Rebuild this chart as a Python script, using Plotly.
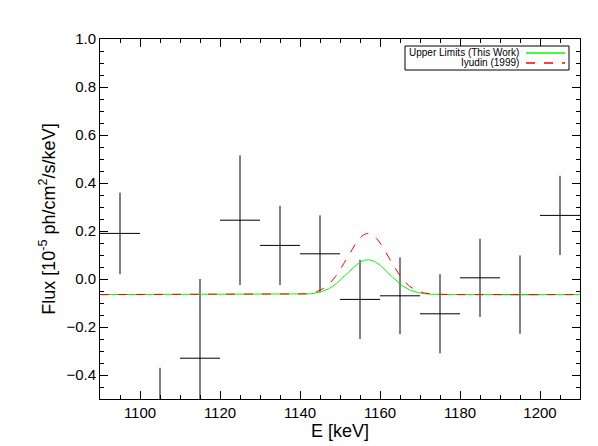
import numpy as np
import plotly.graph_objects as go

energy = [1095, 1105, 1115, 1125, 1135, 1145, 1155, 1165, 1175, 1185, 1195, 1205]
flux = [0.19, -0.55, -0.33, 0.245, 0.14, 0.105, -0.085, -0.07, -0.145, 0.005, -0.065, 0.265]
flux_err = [0.17, 0.18, 0.33, 0.27, 0.165, 0.16, 0.165, 0.16, 0.165, 0.163, 0.163, 0.165]
bin_half = [5] * 12
baseline = -0.065
line_center = 1157.0
line_sigma = 5.2
amp_this_work = 0.145
amp_iyudin = 0.255

e = np.linspace(1090, 1210, 600)
g = np.exp(-0.5 * ((e - line_center) / line_sigma) ** 2)

fig = go.Figure()
fig.add_trace(go.Scatter(x=energy, y=flux, mode="markers", marker=dict(size=0.1, color="black"),
                         error_x=dict(type="data", array=bin_half, width=0, color="black", thickness=1),
                         error_y=dict(type="data", array=flux_err, width=0, color="black", thickness=1),
                         showlegend=False, cliponaxis=True))
fig.add_trace(go.Scatter(x=e, y=baseline + amp_this_work * g, mode="lines",
                         line=dict(color="#00ff00", width=1), showlegend=False))
fig.add_trace(go.Scatter(x=e, y=baseline + amp_iyudin * g, mode="lines",
                         line=dict(color="red", width=1, dash="dash"), showlegend=False))

ax = dict(showline=True, mirror="ticks", linecolor="black", linewidth=1, ticks="inside",
          ticklen=8, tickcolor="black", showgrid=False, zeroline=False,
          minor=dict(ticks="inside", ticklen=4, tickcolor="black", showgrid=False))
fig.update_xaxes(range=[1090, 1210], dtick=20, tick0=1100, minor_dtick=5,
                 title=dict(text="E [keV]", standoff=4), **ax)
fig.update_yaxes(range=[-0.5, 1.0], dtick=0.2, tick0=0, tickformat=".1f", minor_dtick=0.05,
                 title=dict(text="Flux [10<sup>-5</sup> ph/cm<sup>2</sup>/s/keV]", standoff=6), **ax)

L, R, T, B = 397, 561, 38, 62
W, H = 598, 446
pl, pb, pw, ph = 92, 55, 480, 360
def px(x): return (x - pl) / pw
def py(y): return (H - pb - y) / ph
fig.add_shape(type="rect", xref="paper", yref="paper", x0=px(L), x1=px(R), y0=py(B), y1=py(T),
              line=dict(color="black", width=1), fillcolor="white")
fig.add_shape(type="line", xref="paper", yref="paper", x0=px(518), x1=px(557), y0=py(45), y1=py(45),
              line=dict(color="#00ff00", width=1.5))
fig.add_shape(type="line", xref="paper", yref="paper", x0=px(518), x1=px(557), y0=py(55), y1=py(55),
              line=dict(color="red", width=1.5, dash="dash"))
fig.add_annotation(xref="paper", yref="paper", x=px(513), y=py(45), text="Upper Limits (This Work)",
                   showarrow=False, xanchor="right", yanchor="middle", font=dict(size=10))
fig.add_annotation(xref="paper", yref="paper", x=px(513), y=py(55), text="Iyudin (1999)",
                   showarrow=False, xanchor="right", yanchor="middle", font=dict(size=10))

fig.update_layout(width=598, height=446, margin=dict(l=92, r=26, t=31, b=55),
                  plot_bgcolor="white", paper_bgcolor="white",
                  font=dict(family="Liberation Sans", size=15, color="black"))
fig.write_html("out.html")
